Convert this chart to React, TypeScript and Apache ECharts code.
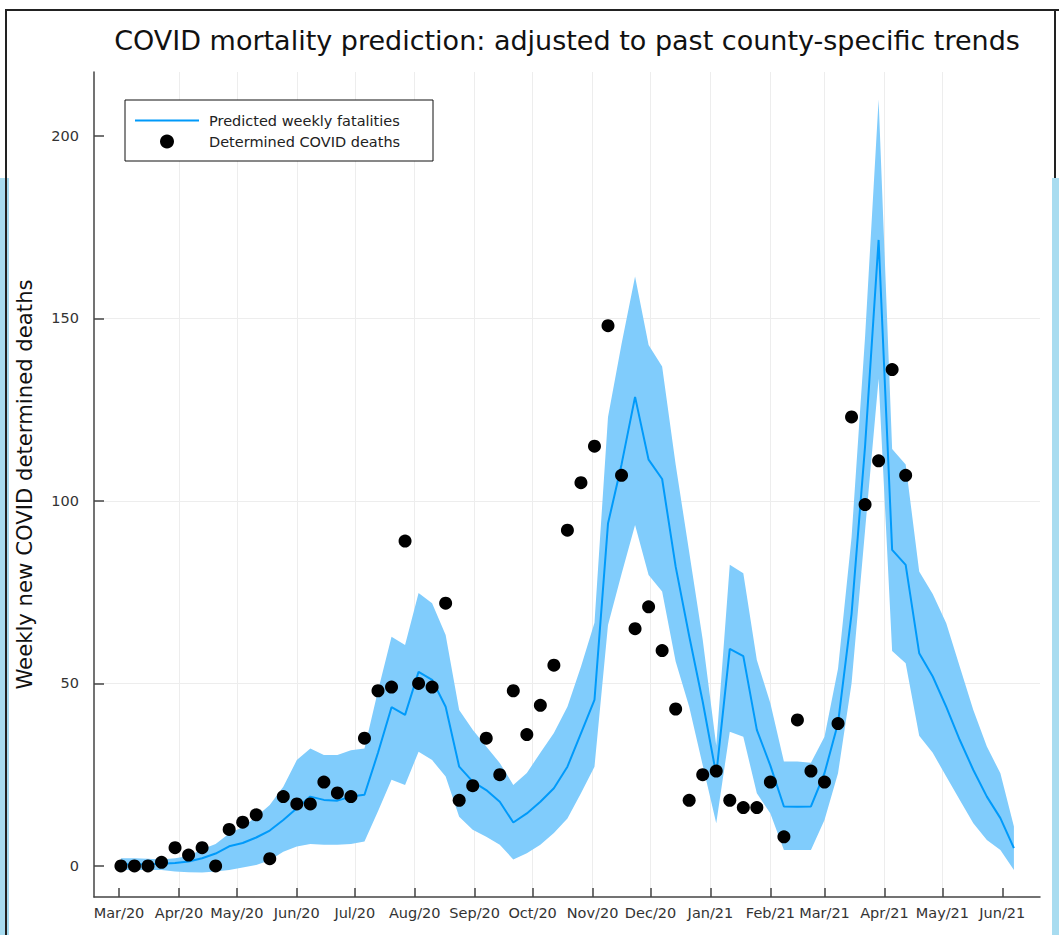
import React, { useEffect, useRef } from "react";
import * as echarts from "echarts";

// ---- data ----
const TITLE = "COVID mortality prediction: adjusted to past county-specific trends";
const Y_NAME = "Weekly new COVID determined deaths";
const LINE_NAME = "Predicted weekly fatalities";
const DOT_NAME = "Determined COVID deaths";

// first weekly observation and number of predicted weeks
const FIRST_WEEK = [2020, 2, 2]; // 2 Mar 2020
const N_WEEKS = 67;

const observedDeaths = [
  0, 0, 0, 1, 5, 3, 5, 0, 10, 12,
  14, 2, 19, 17, 17, 23, 20, 19, 35, 48,
  49, 89, 50, 49, 72, 18, 22, 35, 25, 48,
  36, 44, 55, 92, 105, 115, 148, 107, 65, 71,
  59, 43, 18, 25, 26, 18, 16, 16, 23, 8,
  40, 26, 23, 39, 123, 99, 111, 136, 107,
];

const predicted = [
  0.4, 0.5, 0.5, 0.6, 0.8, 1.2, 2.1, 3.4, 5.4, 6.3,
  7.8, 9.7, 12.6, 15.8, 19, 18.1, 17.9, 19, 19.5, 31,
  43.5, 41.4, 53.2, 51, 43.6, 27.2, 23.1, 20.8, 17.6, 11.9,
  14.4, 17.6, 21.3, 27.2, 36.3, 45.5, 93.8, 110, 128.5, 111.3,
  106, 82, 63, 45, 25, 59.5, 57.5, 37.3, 27.5, 16.3,
  16.2, 16.3, 25.4, 39.1, 69, 115, 171.5, 86.6, 82.5, 58.3,
  51.9, 43.6, 34.5, 26.3, 19, 13.1, 4.9,
];

const upperBound = [
  2.1, 2.1, 2.0, 1.8, 2.1, 2.7, 4.6, 6.0, 8.9, 10.7,
  13.5, 16.7, 21.7, 29, 32.2, 30.4, 30.4, 31.7, 32.2, 48,
  62.8, 60.5, 74.8, 72, 63.3, 42.7, 37.3, 32.7, 28.2, 22.2,
  25.5, 31, 36.4, 43.6, 54.6, 66.6, 123, 143, 161.5, 142.7,
  136.8, 110, 86, 62, 33, 82.5, 80.2, 56.4, 44.6, 28.6,
  28.6, 28.3, 35.4, 54, 90, 145, 210, 114.2, 110, 80.7,
  74.5, 66.5, 54.6, 42.7, 32.7, 25.4, 10.8,
];

const lowerBound = [
  -1.1, -1.1, -1.1, -1.1, -1.5, -1.7, -1.8, -1.5, -1.1, -0.4,
  0.3, 1.6, 3.9, 5.3, 6.0, 5.8, 5.8, 6.0, 6.7, 15,
  23.6, 22.2, 31.3, 29, 24.5, 13.5, 9.9, 8, 5.8, 1.8,
  3.5, 5.8, 9, 13, 19.9, 27.2, 66, 80, 93.4, 79.7,
  75.2, 56, 43.6, 27.6, 11.7, 36.8, 35.4, 19.9, 14.4, 4.4,
  4.4, 4.4, 12.6, 25.4, 50, 92, 133.5, 58.9, 55.5, 35.7,
  31, 24.5, 18.1, 11.7, 7.1, 4.4, -1.1,
];

const Y_TICKS = [0, 50, 100, 150, 200];
const MONTH_TICKS: [number, number][] = [
  [2020, 2], [2020, 3], [2020, 4], [2020, 5], [2020, 6], [2020, 7], [2020, 8], [2020, 9],
  [2020, 10], [2020, 11], [2021, 0], [2021, 1], [2021, 2], [2021, 3], [2021, 4], [2021, 5],
];
const MONTH_ABBR = ["Jan", "Feb", "Mar", "Apr", "May", "Jun", "Jul", "Aug", "Sep", "Oct", "Nov", "Dec"];

const DAY = 86400000;

export default function App() {
  const ref = useRef<HTMLDivElement>(null);

  useEffect(() => {
    if (!ref.current) return;
    const chart = echarts.init(ref.current, undefined, { renderer: "svg" });

    const weeks: number[] = [];
    for (let i = 0; i < N_WEEKS; i++) {
      weeks.push(new Date(FIRST_WEEK[0], FIRST_WEEK[1], FIRST_WEEK[2] + 7 * i).getTime());
    }
    const monthTicks = MONTH_TICKS.map(([y, m]) => new Date(y, m, 1).getTime());
    const xMin = monthTicks[0] - 12.93 * DAY;
    const xMax = monthTicks[monthTicks.length - 1] + 19.5 * DAY;

    const font = "DejaVu Sans";

    chart.setOption({
      animation: false,
      backgroundColor: "#ffffff",
      title: {
        text: TITLE,
        left: 567,
        top: 27,
        textAlign: "center",
        padding: 0,
        textStyle: { fontFamily: font, fontSize: 27, fontWeight: "normal", color: "#111" },
      },
      legend: {
        data: [
          { name: LINE_NAME, icon: "path://M0,0 L64,0 L64,2 L0,2 Z" },
          { name: DOT_NAME, icon: "circle" },
        ],
        orient: "vertical",
        left: 125,
        top: 100,
        padding: [13, 10, 12, 10],
        itemGap: 6,
        itemWidth: 64,
        itemHeight: 14,
        borderColor: "#111",
        borderWidth: 1,
        backgroundColor: "#fff",
        textStyle: { fontFamily: font, fontSize: 14.5, color: "#222", lineHeight: 14, padding: [0, 0, 0, 5], width: 214 },
      },
      grid: { left: 94, right: 19, top: 72, bottom: 38 },
      xAxis: {
        type: "value",
        min: xMin,
        max: xMax,
        axisLine: { onZero: false, lineStyle: { color: "#444", width: 1.5 } },
        axisTick: { inside: true, length: 9, lineStyle: { color: "#444", width: 1.5 }, customValues: monthTicks },
        axisLabel: {
          customValues: monthTicks,
          margin: 8,
          fontFamily: font,
          fontSize: 14.5,
          color: "#333",
          formatter: (v: number) => {
            const d = new Date(v);
            return MONTH_ABBR[d.getMonth()] + "/" + String(d.getFullYear()).slice(2);
          },
        },
        splitLine: { show: true, showMinLine: false, showMaxLine: false, lineStyle: { color: "#ededed", width: 1 } },
      },
      yAxis: {
        type: "value",
        min: -8.5,
        max: 217.5,
        name: Y_NAME,
        nameLocation: "middle",
        nameRotate: 90,
        nameGap: 59,
        nameTextStyle: { fontFamily: font, fontSize: 21.2, color: "#111" },
        axisLine: { show: true, onZero: false, lineStyle: { color: "#444", width: 1.5 } },
        axisTick: { show: true, inside: true, length: 10, lineStyle: { color: "#444", width: 1.5 }, customValues: Y_TICKS },
        axisLabel: { customValues: Y_TICKS, margin: 15, fontFamily: font, fontSize: 14.5, color: "#333" },
        splitLine: { show: true, showMinLine: false, showMaxLine: false, lineStyle: { color: "#ededed", width: 1 } },
      },
      series: [
        {
          name: "band",
          type: "custom",
          silent: true,
          z: 1,
          data: [[weeks[0], predicted[0]]],
          renderItem: (_params: any, api: any) => {
            const pts: number[][] = [];
            for (let i = 0; i < weeks.length; i++) pts.push(api.coord([weeks[i], upperBound[i]]));
            for (let i = weeks.length - 1; i >= 0; i--) pts.push(api.coord([weeks[i], lowerBound[i]]));
            return {
              type: "polygon",
              shape: { points: pts },
              style: { fill: "rgb(128,204,252)", stroke: "none" },
            };
          },
        },
        {
          name: LINE_NAME,
          type: "line",
          symbol: "none",
          color: "#009afa",
          lineStyle: { color: "#009afa", width: 2 },
          data: weeks.map((t, i) => [t, predicted[i]]),
          z: 2,
        },
        {
          name: DOT_NAME,
          type: "scatter",
          symbol: "circle",
          symbolSize: 13,
          itemStyle: { color: "#000", opacity: 1 },
          data: observedDeaths.map((v, i) => [weeks[i], v]),
          z: 3,
        },
      ],
      graphic: [
        { type: "rect", shape: { x: 0, y: 178, width: 9, height: 757 }, style: { fill: "#a8dcf0" }, z: 100 },
        { type: "rect", shape: { x: 1052, y: 178, width: 7, height: 757 }, style: { fill: "#a8dcf0" }, z: 100 },
        { type: "rect", shape: { x: 5, y: 9, width: 1054, height: 2 }, style: { fill: "#222" }, z: 101 },
        { type: "rect", shape: { x: 5, y: 9, width: 2, height: 926 }, style: { fill: "#222" }, z: 101 },
        { type: "rect", shape: { x: 1054, y: 9, width: 2, height: 169 }, style: { fill: "#222" }, z: 101 },
      ],
    });

    return () => chart.dispose();
  }, []);

  return (
    <div
      ref={ref}
      style={{ position: "absolute", left: 0, top: 0, width: 1059, height: 935 }}
    />
  );
}
